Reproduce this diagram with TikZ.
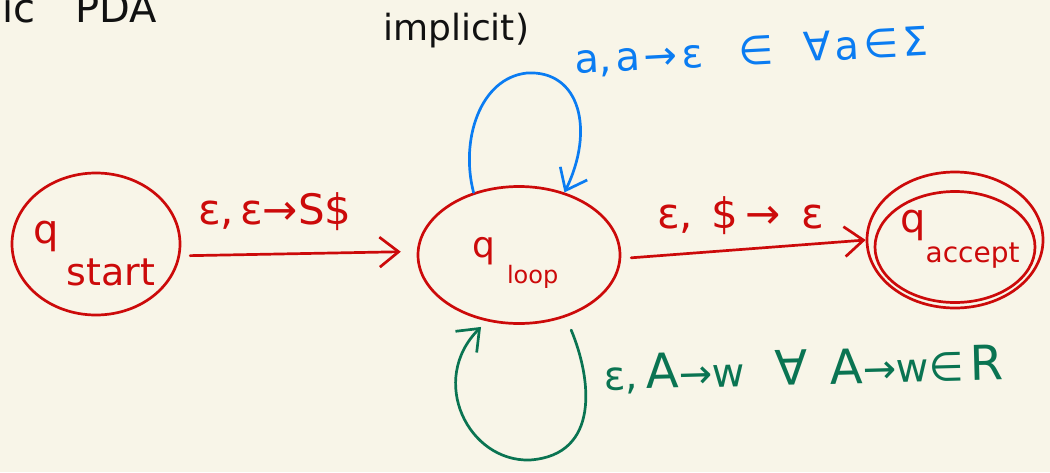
\documentclass[tikz,border=0pt]{standalone}
\usepackage{fontspec}
\setmainfont{DejaVu Sans}
\usetikzlibrary{shapes.geometric,arrows.meta}
\definecolor{paper}{HTML}{F8F5E8}
\definecolor{ink}{HTML}{CC0A0A}
\definecolor{loopblue}{HTML}{0A7CF2}
\definecolor{loopgreen}{HTML}{0A7452}
\definecolor{pen}{HTML}{111111}
\newcommand{\fsz}[1]{\fontsize{#1}{#1}\selectfont}
\newcommand{\hs}[1]{\hspace{#1pt}}

\begin{document}
\begin{tikzpicture}[x=1pt,y=-1pt,
  line cap=round, line join=round,
  state/.style={draw=ink, line width=2.7pt, ellipse, inner sep=0pt},
  txt/.style={inner sep=0pt, anchor=base west},
  barb/.style={-{Straight Barb[length=19pt,width=30pt,line width=2.7pt]}},
  move/.style={draw=ink, line width=2.7pt, barb},
]
\fill[paper] (0,0) rectangle (1050,472);
\clip (0,0) rectangle (1050,472);

% heading fragments along the top edge
\node[txt, text=pen] (head) at (2,22) {\fsz{40}ic\hs{40}PDA};
\node[txt, text=pen] (note) at (383,40) {\fsz{36}implicit)};

% states
\node[state, minimum width=168pt, minimum height=142pt] (start) at (96,244) {};
\node[state, minimum width=202pt, minimum height=137pt] (loop) at (519,255) {};
\node[state, minimum width=176pt, minimum height=136pt] (acc) at (955,240) {};
\node[state, minimum width=160pt, minimum height=111pt] (acci) at (955,247) {};

% state names
\node[txt, text=ink] (startname) at (33,243)
  {\fsz{40}q\hs{8}\raisebox{-42pt}{\fsz{38}start}};
\node[txt, text=ink] (loopname) at (472,257)
  {\fsz{36}q\hs{12}\raisebox{-26pt}{\fsz{24}loop}};
\node[txt, text=ink] (accname) at (900,232)
  {\fsz{40}q\hs{0}\raisebox{-30pt}{\fsz{28}accept}};

% transitions between states
\draw[move, shorten <=10pt, shorten >=16pt] (start.-8) -- (loop.178);
\draw[move, shorten <=10pt] (loop.-2) -- (acc.180);

\node[txt, text=ink] (l1) at (198,224) {\fsz{42}ε,\hs{6}ε→S\$};
\node[txt, text=ink] (l2) at (657,228)
  {\fsz{42}ε,\hs{18}\$\hs{8}→\hs{20}ε};

% self loop above: consume a terminal
\draw[draw=loopblue, line width=2.7pt, barb]
  (loop.126) .. controls (460,140) and (480,78) .. (527,73)
  .. controls (580,70) and (595,130) .. (loop.54);
\node[txt, text=loopblue, rotate=3] (l3) at (575,74)
  {\fsz{40}a,\hs{4}a\hs{4}→\hs{4}ε\hs{36}∈\hs{30}∀\hs{4}a\hs{4}∈\hs{4}Σ};

% self loop below: expand a rule
\draw[draw=loopgreen, line width=2.7pt, barb, shorten <=14pt, shorten >=8pt]
  (loop.-53) .. controls (592,380) and (600,455) .. (530,460)
  .. controls (468,462) and (428,380) .. (loop.-116);
\node[txt, text=loopgreen, rotate=1.5] (l4) at (604,390)
  {\fsz{40}ε,\hs{8}{\fsz{48}A}→w\hs{30}{\fsz{48}∀}\hs{22}{\fsz{48}A}→w∈\hs{6}{\fsz{48}R}};
\end{tikzpicture}
\end{document}
